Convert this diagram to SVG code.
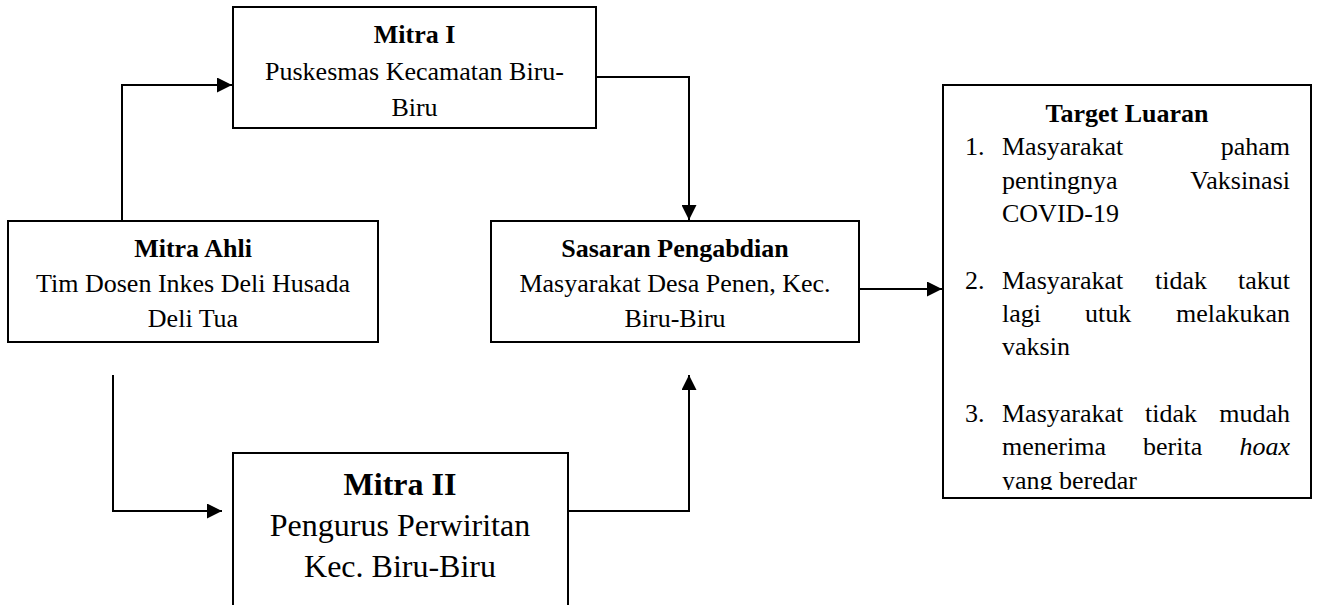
<svg xmlns="http://www.w3.org/2000/svg" width="1318" height="605" viewBox="0 0 1318 605">
<style>
.box{fill:#fff;stroke:#000;stroke-width:2}
.t{font-family:"Liberation Serif","Times New Roman",serif;font-size:26px;fill:#000}
.c{text-anchor:middle}
.b{font-weight:bold}
.e{text-anchor:end}
.big{font-size:32px}
.conn{fill:none;stroke:#000;stroke-width:2}
</style>
<defs>
<marker id="ah" markerUnits="userSpaceOnUse" markerWidth="15" markerHeight="15" refX="15" refY="7.5" orient="auto">
<path d="M0,0 L15,7.5 L0,15 z" fill="#000"/>
</marker>
<clipPath id="tclip"><rect x="943" y="85" width="368" height="405"/></clipPath>
</defs>
<rect width="1318" height="605" fill="#fff"/>
<g id="connectors">
<path class="conn" d="M122,221 V85 H232" marker-end="url(#ah)"/>
<path class="conn" d="M596,77 H689 V220" marker-end="url(#ah)"/>
<path class="conn" d="M859,289 H942" marker-end="url(#ah)"/>
<path class="conn" d="M113,375 V511 H222" marker-end="url(#ah)"/>
<path class="conn" d="M568,511 H689 V375" marker-end="url(#ah)"/>
</g>
<g id="mitra1">
<rect class="box" x="233" y="7" width="363" height="121"/>
<text class="t c b" x="414.5" y="43">Mitra I</text>
<text class="t c" x="414.5" y="80">Puskesmas Kecamatan Biru-</text>
<text class="t c" x="414.5" y="116">Biru</text>
</g>
<g id="mitraAhli">
<rect class="box" x="8" y="221" width="370" height="121"/>
<text class="t c b" x="193" y="257">Mitra Ahli</text>
<text class="t c" x="193" y="292">Tim Dosen Inkes Deli Husada</text>
<text class="t c" x="193" y="327">Deli Tua</text>
</g>
<g id="sasaran">
<rect class="box" x="491" y="221" width="368" height="121"/>
<text class="t c b" x="675" y="257">Sasaran Pengabdian</text>
<text class="t c" x="675" y="292">Masyarakat Desa Penen, Kec.</text>
<text class="t c" x="675" y="327">Biru-Biru</text>
</g>
<g id="mitra2">
<rect class="box" x="233" y="453" width="335" height="170"/>
<text class="t c b big" x="400" y="495">Mitra II</text>
<text class="t c big" x="400" y="536">Pengurus Perwiritan</text>
<text class="t c big" x="400" y="577">Kec. Biru-Biru</text>
</g>
<g id="target">
<rect class="box" x="943" y="85" width="368" height="413"/>
<g clip-path="url(#tclip)">
<text class="t c b" x="1127" y="122">Target Luaran</text>
<text class="t" x="965" y="155">1.</text>
<text class="t" x="1002" y="155">Masyarakat</text>
<text class="t e" x="1290" y="155">paham</text>
<text class="t" x="1002" y="189">pentingnya</text>
<text class="t e" x="1290" y="189">Vaksinasi</text>
<text class="t" x="1002" y="222">COVID-19</text>
<text class="t" x="965" y="289">2.</text>
<text class="t" x="1002" y="289">Masyarakat</text>
<text class="t" x="1155" y="289">tidak</text>
<text class="t e" x="1290" y="289">takut</text>
<text class="t" x="1002" y="322">lagi</text>
<text class="t" x="1085" y="322">utuk</text>
<text class="t e" x="1290" y="322">melakukan</text>
<text class="t" x="1002" y="355">vaksin</text>
<text class="t" x="965" y="422">3.</text>
<text class="t" x="1002" y="422">Masyarakat</text>
<text class="t" x="1145" y="422">tidak</text>
<text class="t e" x="1290" y="422">mudah</text>
<text class="t" x="1002" y="455">menerima</text>
<text class="t" x="1143" y="455">berita</text>
<text class="t e" x="1290" y="455" font-style="italic">hoax</text>
<text class="t" x="1002" y="489">yang beredar</text>
</g>
</g>
</svg>
